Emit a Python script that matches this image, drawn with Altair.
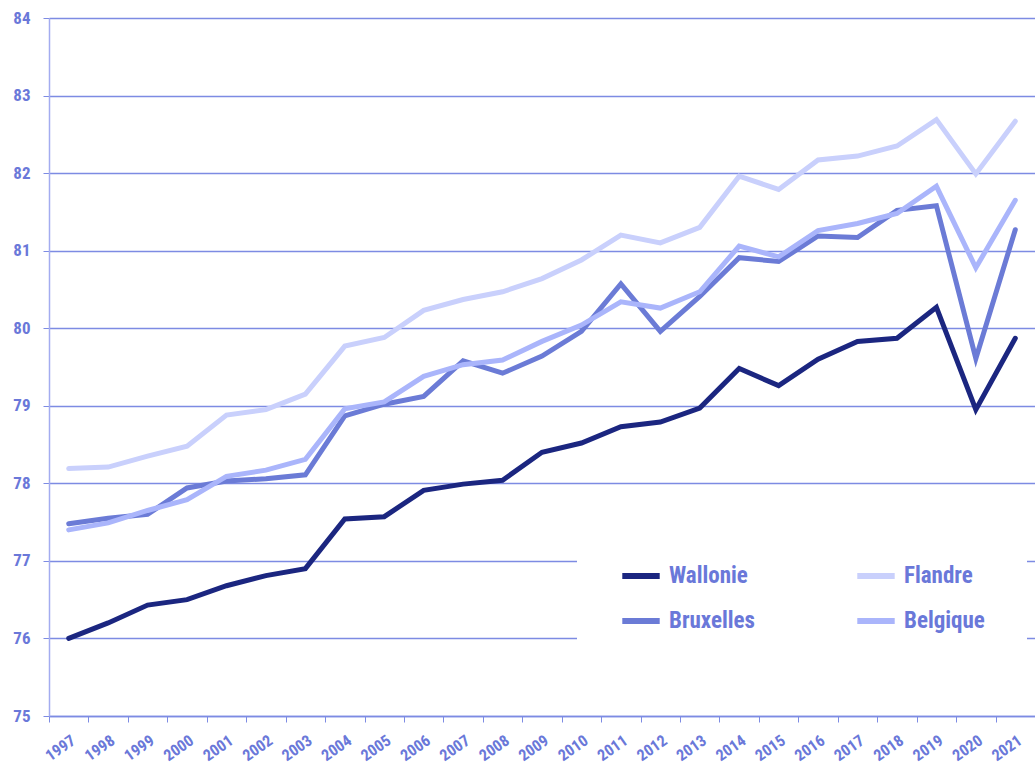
import altair as alt
import pandas as pd

years = list(range(1997, 2022))
regions = ["Wallonie", "Bruxelles", "Flandre", "Belgique"]
colors = ["#1b2680", "#6b7bd6", "#c9d0fc", "#aab5fb"]

wallonie = [76.00, 76.20, 76.43, 76.50, 76.68, 76.81, 76.90, 77.54, 77.57, 77.91,
            77.99, 78.04, 78.40, 78.52, 78.73, 78.79, 78.97, 79.48, 79.26, 79.60,
            79.83, 79.87, 80.27, 78.95, 79.87]
flandre = [78.19, 78.21, 78.35, 78.48, 78.88, 78.95, 79.15, 79.77, 79.88, 80.23,
           80.37, 80.47, 80.64, 80.88, 81.20, 81.10, 81.30, 81.96, 81.79, 82.17,
           82.22, 82.35, 82.69, 81.99, 82.67]
bruxelles = [77.48, 77.55, 77.60, 77.94, 78.03, 78.06, 78.11, 78.87, 79.02, 79.12,
             79.58, 79.42, 79.64, 79.96, 80.57, 79.96, 80.41, 80.91, 80.86, 81.19,
             81.17, 81.52, 81.58, 79.61, 81.27]
belgique = [77.40, 77.49, 77.65, 77.79, 78.09, 78.17, 78.31, 78.96, 79.05, 79.38,
            79.53, 79.59, 79.83, 80.04, 80.34, 80.26, 80.47, 81.06, 80.92, 81.26,
            81.35, 81.48, 81.83, 80.78, 81.65]

series = {"Wallonie": wallonie, "Flandre": flandre, "Bruxelles": bruxelles, "Belgique": belgique}
draw_order = {"Flandre": 0, "Belgique": 1, "Bruxelles": 2, "Wallonie": 3}
rows = []
for name, vals in series.items():
    for y, v in zip(years, vals):
        rows.append({"year": str(y), "region": name, "value": v, "ord": draw_order[name]})
df = pd.DataFrame(rows)

FONT = "Roboto Condensed, DejaVu Sans Condensed, Liberation Sans Narrow, Roboto, sans-serif"
TXT = "#6a78d9"
GRID = "#7d8be3"

chart = alt.Chart(df).mark_line(strokeWidth=5, strokeCap="round", strokeJoin="miter").encode(
    x=alt.X("year:O", bandPosition=0.5,
            scale=alt.Scale(type="band", paddingInner=0, paddingOuter=0),
            axis=alt.Axis(title=None, labelAngle=-35, tickBand="extent", labelFont=FONT,
                          labelFontSize=16, labelFontWeight="bold", labelColor=TXT,
                          domainColor=GRID, domainWidth=1.5, tickColor=GRID, tickSize=6,
                          labelPadding=10, grid=False)),
    y=alt.Y("value:Q", scale=alt.Scale(domain=[75, 84], nice=False, zero=False),
            axis=alt.Axis(title=None, values=list(range(75, 85)), format="d", labelFont=FONT,
                          labelFontSize=17, labelFontWeight="bold", labelColor=TXT,
                          domainColor="#a3acf0", domainWidth=1.5, tickColor=GRID, tickSize=6,
                          labelPadding=13, gridColor=GRID, gridWidth=1.3, gridOpacity=1)),
    color=alt.Color("region:N", scale=alt.Scale(domain=regions, range=colors),
                    legend=alt.Legend(title=None, orient="none", legendX=528, legendY=494,
                                      columns=2, columnPadding=89, rowPadding=11,
                                      symbolType="stroke", symbolStrokeWidth=6, symbolSize=1400,
                                      labelFont=FONT, labelFontSize=23, labelFontWeight="bold",
                                      labelColor=TXT, fillColor="white", padding=42,
                                      labelOffset=6)),
    order=alt.Order("ord:Q"),
    detail="region:N",
).properties(
    width=986, height=698,
    padding={"left": 49, "top": 18, "right": 0, "bottom": 55},
    autosize=alt.AutoSizeParams(type="none"),
).configure_view(stroke=None).configure(background="white")

chart.save("out.html", embed_options={"renderer": "svg", "actions": False})
